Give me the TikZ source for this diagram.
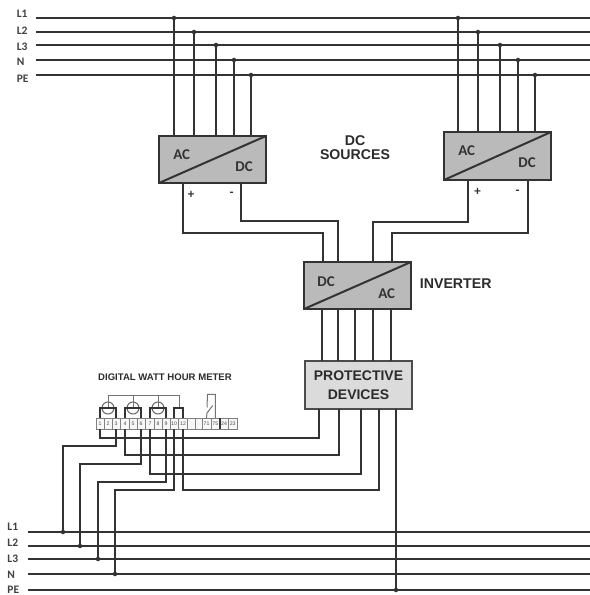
\documentclass[tikz,border=0pt]{standalone}
\usepackage{fontspec}
\setmainfont{Liberation Sans}
\newfontfamily\calib{Carlito}
\definecolor{wirec}{HTML}{333333}
\definecolor{txtc}{HTML}{2B2B2B}
\tikzset{
  bus/.style={draw=wirec,line width=2bp},
  wire/.style={draw=wirec,line width=2bp},
  mwire/.style={draw=wirec,line width=2bp},
  thin wire/.style={draw=black!55,line width=1bp},
  dot/.style={circle,fill=wirec,inner sep=0pt,minimum size=4.5bp},
  conv/.style={draw=wirec,line width=2bp,fill=black!27,minimum width=107bp,inner sep=0pt,outer sep=0pt},
  prot/.style={draw=black!70,line width=2bp,fill=black!14,inner sep=0pt,outer sep=0pt,minimum width=107bp,minimum height=48bp,align=center,
     font=\bfseries\fontsize{14}{19}\selectfont,text=txtc},
  blab/.style={font=\calib\bfseries\fontsize{11.5}{13}\selectfont,text=black!75,anchor=west,inner sep=0pt},
  clab/.style={font=\calib\bfseries\fontsize{15}{16}\selectfont,text=black!80,inner sep=0pt},
  head/.style={font=\bfseries\fontsize{14.2}{15}\selectfont,text=txtc,align=center,inner sep=0pt},
  term/.style={draw=black!50,line width=0.7bp,fill=black!3,minimum height=11bp,inner sep=0pt,outer sep=0pt,font=\fontsize{5.2}{5}\selectfont,text=black!70},
  ctc/.style={circle,draw=black!60,line width=1bp,minimum size=12bp,inner sep=0pt},
  pm/.style={font=\calib\bfseries\fontsize{13}{13}\selectfont,text=black!80,inner sep=0pt},
}
\begin{document}
\begin{tikzpicture}[x=1bp,y=-1bp]
\useasboundingbox (0,0) rectangle (590,595);
% top buses
\foreach \n/\y/\t/\ty in {a/18/L1/14,b/32/L2/30.7,c/45/L3/46.7,d/60/N/62,e/75/PE/79}{
  \coordinate (top\n s) at (36,\y);
  \coordinate (top\n e) at (590,\y);
  \draw[bus] (top\n s) -- (top\n e);
  \node[blab] (toplab\n) at (16.7,\ty) {\t};
}
% bottom buses
\foreach \n/\y/\t/\ty in {a/532/L1/527,b/546/L2/543,c/559/L3/559,d/574/N/575,e/590/PE/589.3}{
  \coordinate (bot\n s) at (28,\y);
  \coordinate (bot\n e) at (590,\y);
  \draw[bus] (bot\n s) -- (bot\n e);
  \node[blab] (botlab\n) at (7.3,\ty) {\t};
}
% converter boxes
\node[conv,minimum height=47bp] (src1) at (212.5,159.5) {};
\node[conv,minimum height=48bp] (src2) at (497.5,156) {};
\node[conv,minimum height=47bp] (inv) at (357.5,285.5) {};
\foreach \b in {src1,src2,inv}{\draw[wire] (\b.south west) -- (\b.north east);}
\node[clab] (s1ac) at (181.7,155) {AC};
\node[clab] (s1dc) at (244,166.7) {DC};
\node[clab] (s2ac) at (466.7,150.7) {AC};
\node[clab] (s2dc) at (527,163) {DC};
\node[clab] (iac) at (386.7,294) {AC};
\node[clab] (idc) at (326,282) {DC};
\node[prot] (pd) at (358.5,385) {PROTECTIVE\\DEVICES};
\node[head] (srclab) at (355,147.5) {DC\\[-0.5pt]SOURCES};
\node[head] (invlab) at (455.7,284) {INVERTER};
% source taps
\foreach \n/\x in {a/174,b/194,c/216,d/234,e/251}{
  \node[dot] (sa\n) at (\x,0 |- top\n s) {};
  \draw[wire] (sa\n.center) -- (sa\n |- src1.north);
}
\foreach \n/\x in {a/458,b/478,c/500,d/518,e/535}{
  \node[dot] (sb\n) at (\x,0 |- top\n s) {};
  \draw[wire] (sb\n.center) -- (sb\n |- src2.north);
}
% DC connectors
\coordinate (s1p) at (183,183);
\coordinate (s1m) at (241,183);
\coordinate (s2p) at (468,180);
\coordinate (s2m) at (528,180);
\coordinate (i1) at (323,262);
\coordinate (i2) at (338,262);
\coordinate (i3) at (373,262);
\coordinate (i4) at (392,262);
\draw[wire] (s1p) |- (0,233 -| i1) -- (i1);
\draw[wire] (s1m) |- (0,221 -| i2) -- (i2);
\draw[wire] (s2p) |- (0,222 -| i3) -- (i3);
\draw[wire] (s2m) |- (0,233 -| i4) -- (i4);
\node[pm] (s1plus) at (191,194.5) {+};
\node[pm] (s1minus) at (231.7,194.5) {-};
\node[pm] (s2plus) at (477.5,192) {+};
\node[pm] (s2minus) at (517.5,192) {-};
% inverter to protective devices
\foreach \x in {322,338,355,373,391}{
  \draw[wire] (\x,309) -- (\x,361);
}
% meter
\node[font=\bfseries\fontsize{9.6}{10}\selectfont,text=txtc,inner sep=0pt] (mlab) at (165,377) {DIGITAL WATT HOUR METER};
\foreach \i/\x/\w/\l in {1/100/8.2/1,2/108/8.2/2,3/116/8.2/3,4/125/8.6/4,5/133/8.2/5,6/141/8.2/6,7/150/8.6/7,8/158/8.2/8,9/166/8.2/9,10/174/8.2/10,11/183/8.6/12,12/191/8.2/,13/198.5/7/,14/206.5/9/71,15/215.3/8.7/75,16/224/8.7/24,17/232.7/8.7/23}{
  \node[term,minimum width=\w bp] (t\i) at (\x,423.5) {\l};
}
\draw[line width=2bp,draw=wirec] (t15.north east) -- (t15.south east);
% current transformer symbols
\node[ctc] (ct1) at (108,408) {};
\node[ctc] (ct2) at (133,408) {};
\node[ctc] (ct3) at (158,408) {};
\coordinate (vb) at (179,395);
\draw[thin wire] (ct1.center) |- (vb) -- (179,408);
\draw[thin wire] (ct2.center) -- (ct2 |- vb);
\draw[thin wire] (ct3.center) -- (ct3 |- vb);
\draw[mwire] (t1.north) |- (ct1.center) -| (t3.north);
\draw[mwire] (t4.north) |- (ct2.center) -| (t6.north);
\draw[mwire] (t7.north) |- (ct3.center) -| (t9.north);
\draw[mwire] (t10.north) |- (179,408) -| (t11.north);
% auxiliary contact
\coordinate (swa) at (207,413);
\coordinate (swb) at (212.7,405.5);
\coordinate (swc) at (207,407.5);
\draw[thin wire] (t15.north) -- (215.3,394.3) -- (207.5,394.3) -- (swc);
\draw[thin wire] (t14.north) -- (swa) -- (swb);
% protective device outputs to meter
\coordinate (p1) at (319,409);
\coordinate (p2) at (339,409);
\coordinate (p3) at (361,409);
\coordinate (p4) at (379,409);
\coordinate (p5) at (396,409);
\draw[mwire] (p1) |- (0,438 -| t1) -- (t1.south);
\draw[mwire] (p2) |- (0,455 -| t4) -- (t4.south);
\draw[mwire] (p3) |- (0,474 -| t7) -- (t7.south);
\draw[mwire] (p4) |- (0,490 -| t11) -- (t11.south);
\node[dot] (gnd) at (396,590) {};
\draw[mwire] (p5) -- (gnd.center);
% meter to bottom buses
\node[dot] (ma) at (63,532) {};
\node[dot] (mb) at (80,546) {};
\node[dot] (mc) at (98,559) {};
\node[dot] (md) at (115,574) {};
\draw[mwire] (t3.south) |- (0,446 -| ma) -- (ma.center);
\draw[mwire] (t6.south) |- (0,464 -| mb) -- (mb.center);
\draw[mwire] (t9.south) |- (0,482 -| mc) -- (mc.center);
\draw[mwire] (t10.south) |- (0,490 -| md) -- (md.center);
\end{tikzpicture}
\end{document}
